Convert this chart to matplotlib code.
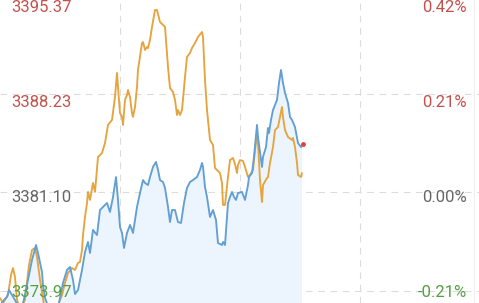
import matplotlib
matplotlib.use("Agg")
import matplotlib.pyplot as plt

# ---- data (minutes since open, index level) ----
blue_t = [0, 2, 3.5, 4.5, 6, 7.5, 9, 11, 13, 14, 16, 18, 19, 21, 21.5, 22.5, 24, 26.5, 29, 31.5,
          33.5, 35, 36.5, 37.5, 39, 41, 42.5, 44, 45, 46.5, 48.5, 50, 51.5, 53.5, 55, 56.5, 58, 59,
          60, 61, 62, 63.5, 65, 66, 66.5, 67.5, 68.5, 70, 71.5, 72.5, 74, 75, 76.5, 78, 79, 80,
          81.5, 82.5, 84, 85, 86, 87.5, 89, 90.5, 92, 93.5, 95, 96.5, 98.5, 100, 101, 101.5, 102.5,
          103.5, 105, 106.5, 108, 109, 111, 111.5, 112.5, 114, 115, 116, 117, 118, 119, 121, 122.5,
          124, 124.5, 126, 127, 128.5, 129, 131, 131.5, 133, 134, 134.5, 135.5, 136.5, 138.5, 139.5,
          140.5, 141.5, 142.5, 144, 145, 146, 147.5, 149, 150.5, 151]
blue_v = [3372.88, 3373.32, 3373.54, 3374.04, 3373.68, 3373.32, 3372.88, 3372.74, 3374.04, 3374.77,
          3376.21, 3377.30, 3376.72, 3375.34, 3374.40, 3373.46, 3372.88, 3372.59, 3372.74, 3374.55,
          3375.49, 3375.71, 3374.77, 3373.75, 3374.04, 3375.49, 3376.79, 3377.52, 3376.72, 3378.39,
          3378.02, 3379.83, 3380.05, 3380.34, 3379.69, 3380.77, 3382.22, 3380.56, 3378.60, 3378.17,
          3377.08, 3378.17, 3378.75, 3378.39, 3378.17, 3379.11, 3380.05, 3381.06, 3382.00, 3381.79,
          3381.64, 3382.22, 3382.95, 3383.31, 3382.73, 3382.00, 3381.86, 3381.43, 3380.05, 3378.96,
          3379.83, 3379.83, 3378.96, 3378.89, 3380.34, 3381.43, 3381.86, 3382.00, 3382.22, 3382.73,
          3383.24, 3382.95, 3381.50, 3380.77, 3379.33, 3379.83, 3379.11, 3377.44, 3377.30, 3377.52,
          3377.30, 3380.34, 3380.77, 3381.14, 3380.77, 3380.56, 3381.06, 3381.14, 3380.56, 3381.64,
          3382.22, 3382.51, 3383.67, 3385.99, 3385.12, 3382.95, 3383.67, 3384.39, 3385.77, 3385.41,
          3386.35, 3387.07, 3387.80, 3389.03, 3389.97, 3389.03, 3388.30, 3387.58, 3386.57, 3386.35,
          3385.84, 3384.68, 3384.39, 3384.54]

orange_t = [0, 1.5, 4, 5.5, 6.5, 7.5, 8.5, 10, 12.5, 14.5, 16, 17.5, 18.5, 20, 21, 22, 25, 28, 31,
            32.5, 34, 36, 37.5, 39, 40, 41, 41.5, 42.5, 43.5, 44, 45, 46.5, 47.5, 49, 51, 52.5, 54,
            56, 57.5, 58.5, 59, 60, 61, 61.5, 62.5, 63.5, 64, 65, 66, 66.5, 67.5, 68.5, 69, 71,
            71.5, 72.5, 73.5, 74, 75, 76, 77.5, 78.5, 80, 81.5, 82.5, 84, 85, 86.5, 87.5, 88.5,
            89, 90, 91, 92.5, 93.5, 95, 96, 97.5, 99, 101, 101.5, 102.5, 103.5, 105, 106.5, 107.5,
            110, 111, 111.5, 112.5, 114, 115, 116.5, 117.5, 118.5, 119, 120, 121.5, 122.5, 124,
            125, 126.5, 127.5, 128.5, 129, 130, 131, 131.5, 133.5, 134, 135, 136.5, 137.5, 139,
            140, 141, 141.5, 142.5, 144, 146, 146.5, 147.5, 148.5, 149, 150.5, 151]
orange_v = [3373.46, 3373.10, 3373.68, 3375.13, 3375.63, 3374.98, 3373.32, 3372.74, 3373.32,
            3375.85, 3376.94, 3377.08, 3376.43, 3374.77, 3373.90, 3372.96, 3372.45, 3372.59,
            3373.68, 3374.55, 3375.27, 3375.63, 3375.49, 3376.00, 3376.07, 3376.94, 3378.02,
            3379.33, 3380.34, 3381.14, 3380.56, 3381.79, 3381.14, 3383.67, 3383.96, 3384.68,
            3385.99, 3386.35, 3388.01, 3389.75, 3388.74, 3386.85, 3386.57, 3385.99, 3387.80,
            3388.16, 3388.52, 3388.01, 3386.85, 3386.57, 3387.29, 3388.74, 3389.97, 3391.92,
            3391.99, 3391.42, 3391.63, 3391.56, 3392.14, 3393.08, 3394.31, 3394.31, 3393.44,
            3393.23, 3393.08, 3390.18, 3388.66, 3388.38, 3387.80, 3386.71, 3387.07, 3386.71,
            3387.07, 3389.46, 3390.91, 3391.20, 3391.56, 3391.92, 3392.36, 3392.72, 3392.36,
            3389.24, 3387.07, 3384.90, 3384.54, 3382.87, 3382.51, 3381.79, 3380.20, 3380.20,
            3382.22, 3383.45, 3383.60, 3383.16, 3382.51, 3383.09, 3383.45, 3383.38, 3382.95,
            3382.22, 3382.37, 3382.73, 3384.18, 3385.12, 3384.68, 3382.00, 3380.41, 3381.64,
            3382.15, 3382.22, 3383.24, 3384.39, 3385.62, 3385.84, 3386.57, 3387.29, 3386.57,
            3385.62, 3385.12, 3384.90, 3385.05, 3384.39, 3383.24, 3382.37, 3382.22, 3382.51]

prev_close = 3381.10
price_labels = ["3395.37", "3388.23", "3381.10", "3373.97"]
pct_labels = ["0.42%", "0.21%", "0.00%", "-0.21%"]
grid_levels = [3395.37, 3388.23, 3381.10, 3373.97]
total_minutes = 239.5

# ---- style ----
RED = "#c2524b"
GREY = "#666666"
GREEN = "#55a044"
label_colors = [RED, RED, GREY, GREEN]

W, H = 479, 303
fig = plt.figure(figsize=(W / 100, H / 100), dpi=100)
ax = fig.add_axes([0, 0, 1, 1])
ax.set_xlim(0, total_minutes)
ax.set_ylim(3373.10, 3395.035)
ax.axis("off")

grid_kw = dict(color="#dcdcdc", lw=0.8, ls=(0, (6, 5)), zorder=1)
for lv in grid_levels:
    ax.axhline(lv, **grid_kw)
for m in (60, 120, 180):
    ax.axvline(m, **grid_kw)
ax.axvline(237.0, color="#efefef", lw=0.8, zorder=1)

ax.fill_between(blue_t, blue_v, 3360, color="#ecf5fd", lw=0, zorder=2)
ax.plot(orange_t, orange_v, color="#e6a43e", lw=1.35, zorder=3,
        solid_joinstyle="round", solid_capstyle="round")
ax.plot(blue_t, blue_v, color="#629fd3", lw=1.35, zorder=4,
        solid_joinstyle="round", solid_capstyle="round")
ax.plot([blue_t[-1] + 0.5], [blue_v[-1] + 0.05], "o", color="#d9463f", ms=3.5, mec="none", zorder=5)

baselines = [12, 107, 202, 297]
for lab, plab, col, b in zip(price_labels, pct_labels, label_colors, baselines):
    yf = 1 - b / H
    fig.text(11 / W, yf, lab, color=col, fontsize=12, family="Roboto",
             ha="left", va="baseline", zorder=10)
    fig.text(467 / W, yf, plab, color=col, fontsize=12, family="Roboto",
             ha="right", va="baseline", zorder=10)

fig.savefig("out.png", dpi=100, facecolor="white")
